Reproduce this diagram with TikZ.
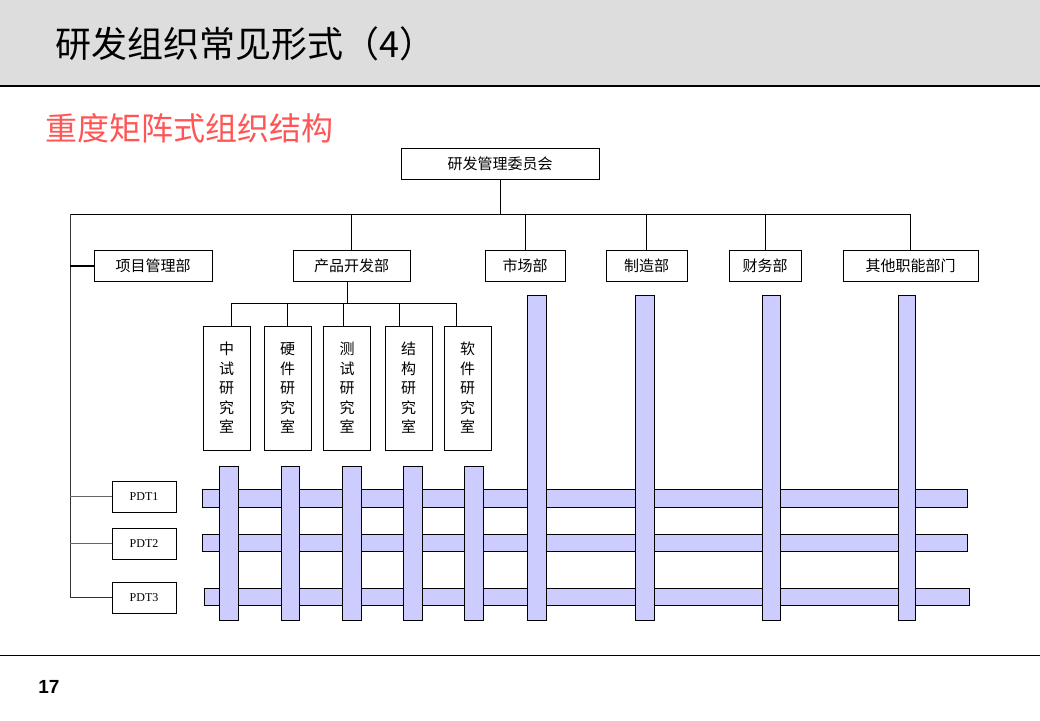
\documentclass[tikz,border=0pt]{standalone}
\usepackage{fontspec}
\setmainfont{Liberation Serif}
\newfontfamily\cjk{Noto Sans CJK SC}
\newfontfamily\numfont{Liberation Sans}
\definecolor{barblue}{RGB}{204,204,255}
\definecolor{headgray}{RGB}{221,221,221}
\definecolor{subred}{RGB}{255,85,85}

\begin{document}
\begin{tikzpicture}[x=1pt,y=-1pt,
  box/.style={draw,line width=1pt,inner sep=0pt,minimum height=31pt,font=\cjk\fontsize{15}{18}\selectfont},
  lab/.style={draw,line width=1pt,inner sep=0pt,minimum width=47pt,minimum height=124pt,align=center,font=\cjk\fontsize{15}{19.5}\selectfont},
  pdt/.style={draw,line width=1pt,inner sep=0pt,minimum width=64pt,minimum height=31pt,font=\fontsize{12}{14}\selectfont},
  bar/.style={draw,line width=1pt,fill=barblue},
  link/.style={line width=1pt}]
\useasboundingbox (0,0) rectangle (1040,720);

\fill[headgray] (0,0) rectangle (1040,86);
\draw[line width=1.5pt] (0,86) -- (1040,86);
\node[anchor=west,inner sep=0pt,font=\cjk\fontsize{36}{40}\selectfont] (title) at (55,44) {研发组织常见形式（4）};
\node[anchor=west,inner sep=0pt,text=subred,font=\cjk\fontsize{32}{36}\selectfont] (subtitle) at (45,128) {重度矩阵式组织结构};

\node[box,minimum width=198pt] (rdc) at (500,163.5) {研发管理委员会};

\node[box,minimum width=118pt] (pm) at (153,265.5) {项目管理部};
\node[box,minimum width=117pt] (pd) at (351.5,265.5) {产品开发部};
\node[box,minimum width=80pt] (mkt) at (525,265.5) {市场部};
\node[box,minimum width=81pt] (mfg) at (646.5,265.5) {制造部};
\node[box,minimum width=72pt] (fin) at (765,265.5) {财务部};
\node[box,minimum width=135pt] (oth) at (910.5,265.5) {其他职能部门};

\coordinate (busl) at (70,214);
\draw[link] (busl) -- (oth.north |- busl) -- (oth.north);
\draw[link] (rdc.south) -- (rdc.south |- busl);
\draw[link] (pd.north) -- (pd.north |- busl);
\draw[link] (mkt.north) -- (mkt.north |- busl);
\draw[link] (mfg.north) -- (mfg.north |- busl);
\draw[link] (fin.north) -- (fin.north |- busl);

\node[lab] (lab1) at (226.5,388) {中\\试\\研\\究\\室};
\node[lab] (lab2) at (287.5,388) {硬\\件\\研\\究\\室};
\node[lab] (lab3) at (347,388) {测\\试\\研\\究\\室};
\node[lab] (lab4) at (408.5,388) {结\\构\\研\\究\\室};
\node[lab] (lab5) at (467.5,388) {软\\件\\研\\究\\室};

\coordinate (pdb) at (347,303);
\draw[link] (pdb |- pd.south) -- (pdb);
\draw[link] ([xshift=4.5pt]lab1.north) |- ([xshift=-11.5pt]lab5.north |- pdb) -- ([xshift=-11.5pt]lab5.north);
\draw[link] (lab2.north) -- (lab2.north |- pdb);
\draw[link] ([xshift=-4pt]lab3.north) -- ([xshift=-4pt]lab3.north |- pdb);
\draw[link] ([xshift=-9.5pt]lab4.north) -- ([xshift=-9.5pt]lab4.north |- pdb);

\draw[bar] (202,489) rectangle (967,507);
\draw[bar] (202,534) rectangle (967,551);
\draw[bar] (204,588) rectangle (969,605);

\draw[bar] (219,466) rectangle (238,620);
\draw[bar] (281,466) rectangle (299,620);
\draw[bar] (342,466) rectangle (361,620);
\draw[bar] (403,466) rectangle (422,620);
\draw[bar] (464,466) rectangle (483,620);
\draw[bar] (527,295) rectangle (546,620);
\draw[bar] (635,295) rectangle (654,620);
\draw[bar] (762,295) rectangle (780,620);
\draw[bar] (898,295) rectangle (915,620);

\node[pdt] (pdt1) at (144,496.5) {PDT1};
\node[pdt] (pdt2) at (144,543.5) {PDT2};
\node[pdt] (pdt3) at (144,597.5) {PDT3};

\draw[link,black!80] (busl) |- (pdt3.west);
\draw[line width=2pt] (busl |- pm.west) -- (pm.west);
\draw[link,black!60] (busl |- pdt1.west) -- (pdt1.west);
\draw[link,black!60] (busl |- pdt2.west) -- (pdt2.west);

\draw[link] (0,655) -- (1040,655);
\node[font=\numfont\bfseries\fontsize{19}{22}\selectfont] (page) at (49,687) {17};
\end{tikzpicture}
\end{document}
